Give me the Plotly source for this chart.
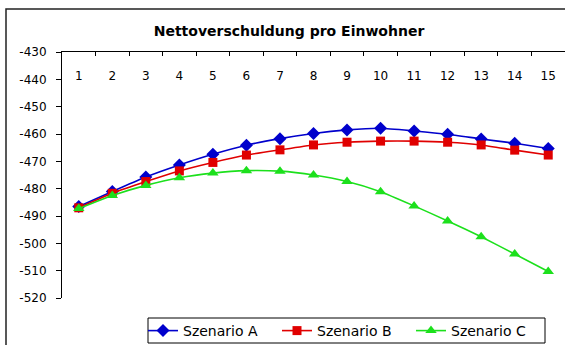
import plotly.graph_objects as go

years = list(range(1, 16))
tick_labels = [str(i) for i in years]
szenario_a = [-486.5, -481.0, -475.7, -471.3, -467.4, -464.1, -461.7, -459.8,
              -458.5, -457.9, -458.9, -460.1, -461.8, -463.4, -465.3]
szenario_b = [-487.0, -481.7, -477.4, -473.5, -470.4, -467.7, -465.8, -464.0,
              -463.0, -462.6, -462.6, -463.0, -464.0, -465.9, -467.7]
szenario_c = [-487.3, -482.5, -478.8, -476.0, -474.3, -473.4, -473.6, -475.0,
              -477.4, -481.1, -486.3, -491.8, -497.6, -503.9, -510.3]
y_ticks = list(range(-520, -429, 10))
y_tick_labels = [str(v) for v in y_ticks]

FONT = "DejaVu Sans"
W, H = 565, 345
PL, PR, PT, PB = 62, 565, 52, 298  # plot area in pixels

series = [
    ("Szenario A", szenario_a, "#0000CC", "diamond", 10),
    ("Szenario B", szenario_b, "#E00000", "square", 9),
    ("Szenario C", szenario_c, "#1CE01C", "triangle-up", 10),
]

fig = go.Figure()
for name, vals, col, sym, size in series:
    fig.add_trace(go.Scatter(
        x=years, y=vals, name=name, mode="lines+markers",
        line=dict(color=col, width=1.6, shape="spline", smoothing=0.5),
        marker=dict(symbol=sym, size=size, color=col, line=dict(width=0)),
        cliponaxis=False,
    ))
# invisible helper trace for the category label axis
fig.add_trace(go.Scatter(x=years, y=[None] * len(years), xaxis="x2",
                         showlegend=False, hoverinfo="skip", mode="lines"))

fig.update_layout(
    width=W, height=H,
    margin=dict(l=0, r=0, t=0, b=0, autoexpand=False),
    paper_bgcolor="white", plot_bgcolor="white",
    font=dict(family=FONT, size=12, color="black"),
    title=dict(text="<b>Nettoverschuldung pro Einwohner</b>",
               font=dict(family=FONT, size=14, color="black"),
               x=289 / W, xanchor="center", xref="container",
               y=1 - 31 / H, yanchor="middle", yref="container"),
    showlegend=True,
    legend=dict(orientation="h", x=143 / W, y=1 - 331 / H,
                xanchor="left", yanchor="middle",
                borderwidth=0, bgcolor="rgba(0,0,0,0)",
                font=dict(family=FONT, size=14), entrywidth=89,
                tracegroupgap=0),
    xaxis=dict(domain=[PL / W, PR / W], range=[0.5, 15.5], side="top",
               tickmode="array", tickvals=years, ticks="inside",
               ticklen=0, tickwidth=0, showticklabels=False,
               showline=True, linecolor="black", linewidth=1,
               showgrid=False, zeroline=False, automargin=False,
               minor=dict(tickmode="linear", tick0=0.5, dtick=1,
                          ticks="inside", ticklen=4, tickcolor="black",
                          tickwidth=1, showgrid=False)),
    xaxis2=dict(domain=[PL / W, PR / W], range=[0.5, 15.5], overlaying="x",
                anchor="free", position=1 - 67 / H, side="bottom",
                tickmode="array", tickvals=years, ticktext=tick_labels,
                ticks="", showline=False, showgrid=False, zeroline=False,
                automargin=False, tickfont=dict(family=FONT, size=12)),
    yaxis=dict(domain=[1 - PB / H, 1 - PT / H], range=[-520, -430],
               tickmode="array", tickvals=y_ticks, ticktext=y_tick_labels,
               ticks="outside", ticklen=5, tickcolor="black",
               showline=True, linecolor="black", linewidth=1,
               showgrid=False, zeroline=False, ticklabelstandoff=7,
               automargin=False, tickfont=dict(family=FONT, size=12)),
    shapes=[
        dict(type="rect", xref="paper", yref="paper",
             x0=6 / W, x1=1.05, y0=-0.2, y1=1 - 9 / H,
             line=dict(color="#222222", width=1.5), layer="below"),
        dict(type="rect", xref="paper", yref="paper",
             x0=148 / W, x1=545 / W, y0=1 - 343 / H, y1=1 - 318 / H,
             line=dict(color="black", width=1), fillcolor="white",
             layer="above"),
    ],
)

fig.write_html("out.html", config={"displayModeBar": False},
               post_script="document.body.style.margin='0';")
